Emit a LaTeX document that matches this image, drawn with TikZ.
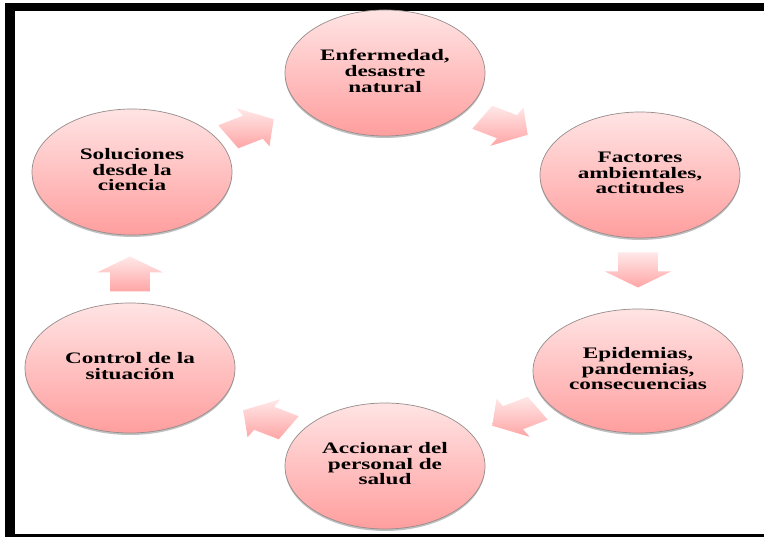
\documentclass[tikz,border=0pt]{standalone}
\usepackage{fontspec}
\usepackage{graphicx}
\setmainfont{Liberation Serif}
\usetikzlibrary{shapes.geometric,shadows}
\definecolor{pinktop}{RGB}{255,228,228}
\definecolor{pinkbot}{RGB}{255,158,158}
\definecolor{arrtop}{RGB}{255,232,232}
\definecolor{arrbot}{RGB}{255,165,165}
\definecolor{rimgray}{RGB}{150,140,140}
\newcommand\bubtext[1]{\scalebox{1.45}[1]{\begin{tabular}{@{}c@{}}#1\end{tabular}}}
\newcommand\blockarr[3]{%
  \begin{scope}[shift={(#1,#2)},xscale=1.5,rotate=#3]
    \shade[arrowshape] (-17.5,-13.3) -- (1.5,-13.3) -- (1.5,-22) -- (17.5,0)
      -- (1.5,22) -- (1.5,13.3) -- (-17.5,13.3) -- cycle;
  \end{scope}}
\tikzset{
  bub/.style={ellipse, draw=rimgray, line width=0.7pt,
    top color=pinktop, bottom color=pinkbot,
    minimum width=200pt, minimum height=126pt, inner sep=0pt,
    font=\bfseries\fontsize{16}{15.5}\selectfont, align=center,
    drop shadow={shadow xshift=0pt, shadow yshift=-2pt, opacity=0.35, fill=black!70}},
  arrowshape/.style={top color=arrtop, bottom color=arrbot, draw=none},
  framebar/.style={fill=black, draw=none}
}
\renewcommand\arraystretch{1}
\begin{document}
\begin{tikzpicture}[x=1pt,y=1pt]
\useasboundingbox (0,0) rectangle (764,537);
\fill[white] (0,0) rectangle (764,537);
% frame
\fill[framebar] (5,526) rectangle (764,534);
\fill[framebar] (5,0) rectangle (15,534);
\fill[framebar] (5,0) rectangle (764,2.5);
% nodes
\node[bub] (enf) at (385,464) {\bubtext{Enfermedad,\\desastre\\natural}};
\node[bub] (fac) at (640,362) {\bubtext{Factores\\ambientales,\\actitudes}};
\node[bub, minimum width=210pt, minimum height=124pt] (epi) at (638,166) {\bubtext{Epidemias,\\pandemias,\\consecuencias}};
\node[bub] (acc) at (385,71) {\bubtext{Accionar del\\personal de\\salud}};
\node[bub, minimum width=210pt, minimum height=130pt] (con) at (130,169) {\bubtext{Control de la\\situación}};
\node[bub] (sol) at (132,365) {\bubtext{Soluciones\\desde la\\ciencia}};
% block arrows
\blockarr{251}{409}{30}
\blockarr{505}{411}{-30}
\blockarr{638}{267}{-90}
\blockarr{515}{120}{-150}
\blockarr{266}{118}{150}
\blockarr{130}{263}{90}
\end{tikzpicture}
\end{document}
